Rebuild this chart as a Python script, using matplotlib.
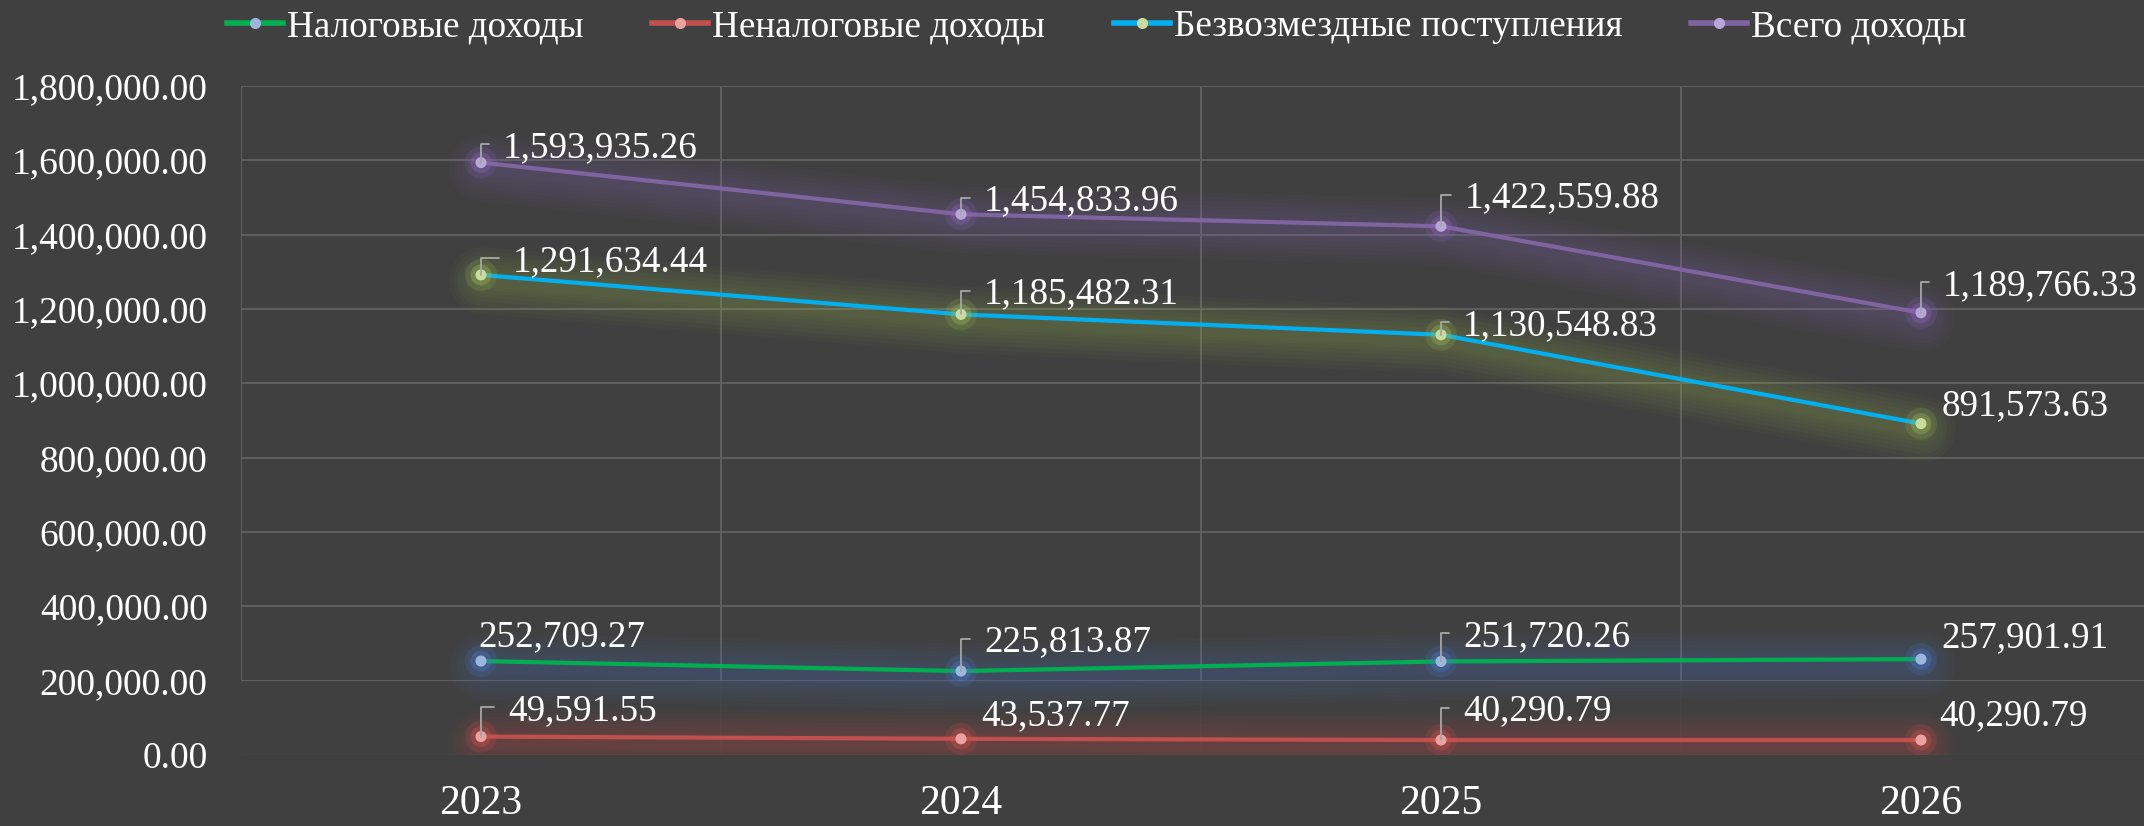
import matplotlib.pyplot as plt
import matplotlib.patheffects as pe
from matplotlib.lines import Line2D
from matplotlib.ticker import FuncFormatter, MultipleLocator

# данные
years = ['2023', '2024', '2025', '2026']
names = ['Налоговые доходы', 'Неналоговые доходы', 'Безвозмездные поступления', 'Всего доходы']
tax = [252709.27, 225813.87, 251720.26, 257901.91]
nontax = [49591.55, 43537.77, 40290.79, 40290.79]
grants = [1291634.44, 1185482.31, 1130548.83, 891573.63]
total = [1593935.26, 1454833.96, 1422559.88, 1189766.33]

# цвета: линия, маркер, свечение
line_colors = ['#00B050', '#C0504D', '#00B0F0', '#8064A2']
marker_colors = ['#9DB6DE', '#E8A3A1', '#C9DC9E', '#B7A6D6']
glow_colors = ['#4A78C8', '#D0504C', '#9BBB59', '#8A64B8']

# смещения подписей (пиксели) и выноски
lab_dx = [[-3, 23, 22, 20], [27, 20, 22, 18], [32, 23, 22, 21], [22, 23, 24, 22]]
lab_dy = [[24, 29, 25, 21], [26, 23, 29, 24], [13, 20, 9, 18], [15, 13, 28, 27]]
leader = [[False, True, True, False], [True, False, True, False],
          [True, True, True, False], [True, True, True, True]]

bg = '#404040'
plt.rcParams['font.family'] = ['Liberation Serif', 'DejaVu Serif']

fig = plt.figure(figsize=(21.44, 8.26), dpi=100, facecolor=bg)
ax = fig.add_axes([241 / 2144, 71 / 826, 1920 / 2144, 669 / 826], facecolor=bg)

x = list(range(len(years)))
series = [tax, nontax, grants, total]

for k, vals in enumerate(series):
    glow = [pe.Stroke(linewidth=w, foreground=glow_colors[k], alpha=0.04, offset=(1, -4))
            for w in (48, 42, 36, 30, 24, 18, 13, 9)]
    ax.plot(x, vals, color=line_colors[k], lw=3, solid_capstyle='round', zorder=3,
            path_effects=glow + [pe.Normal()])
    ax.plot(x, vals, 'o', ms=7, color=marker_colors[k], mec=marker_colors[k], zorder=5,
            path_effects=[pe.Stroke(linewidth=16, foreground=glow_colors[k], alpha=0.18),
                          pe.Stroke(linewidth=8, foreground=glow_colors[k], alpha=0.35),
                          pe.Normal()])
    for i, v in enumerate(vals):
        arrow = None
        if leader[k][i]:
            arrow = dict(arrowstyle='-', color='#A6A6A6', lw=1.3, shrinkA=8, shrinkB=0,
                         relpos=(0, 0.6),
                         connectionstyle='angle,angleA=0,angleB=90,rad=0')
        ax.annotate('{:,.2f}'.format(v), xy=(i, v), xytext=(lab_dx[k][i], lab_dy[k][i]),
                    textcoords='offset pixels', ha='left', va='center',
                    fontsize=26.7, color='white', zorder=6, arrowprops=arrow)

ax.set_xlim(-0.5, len(years) - 0.5)
ax.set_ylim(0, 1800000)
ax.yaxis.set_major_locator(MultipleLocator(200000))
ax.yaxis.set_major_formatter(FuncFormatter(lambda v, p: '{:,.2f}'.format(v)))
ax.set_xticks(x)
ax.set_xticklabels(years)
ax.set_xticks([i - 0.5 for i in range(len(years) + 1)], minor=True)

ax.tick_params(axis='y', length=0, pad=24, labelsize=27, labelcolor='white')
ax.tick_params(axis='x', which='both', length=0, pad=21, labelsize=30, labelcolor='white')

ax.set_axisbelow(True)
ax.grid(axis='y', color='#5E5E5E', lw=1.5)
ax.grid(axis='x', which='minor', color='#5E5E5E', lw=1.5)
# нижняя часть сетки почти не видна
ax.axhspan(0, ax.get_yticks()[2], color=bg, alpha=0.9, zorder=1, lw=0)
for s in ax.spines.values():
    s.set_visible(False)

handles = [Line2D([], [], color=line_colors[k], lw=4, marker='o', ms=7,
                  mfc=marker_colors[k], mec=marker_colors[k]) for k in range(4)]
fig.legend(handles, names, loc='center left', bbox_to_anchor=(227 / 2144, 1 - 27 / 826),
           ncol=4, frameon=False, fontsize=26.7, labelcolor='white',
           handlelength=1.5, handletextpad=0.12, columnspacing=1.85,
           borderpad=0, borderaxespad=0)

fig.savefig('out.png', dpi=100, facecolor=bg)
